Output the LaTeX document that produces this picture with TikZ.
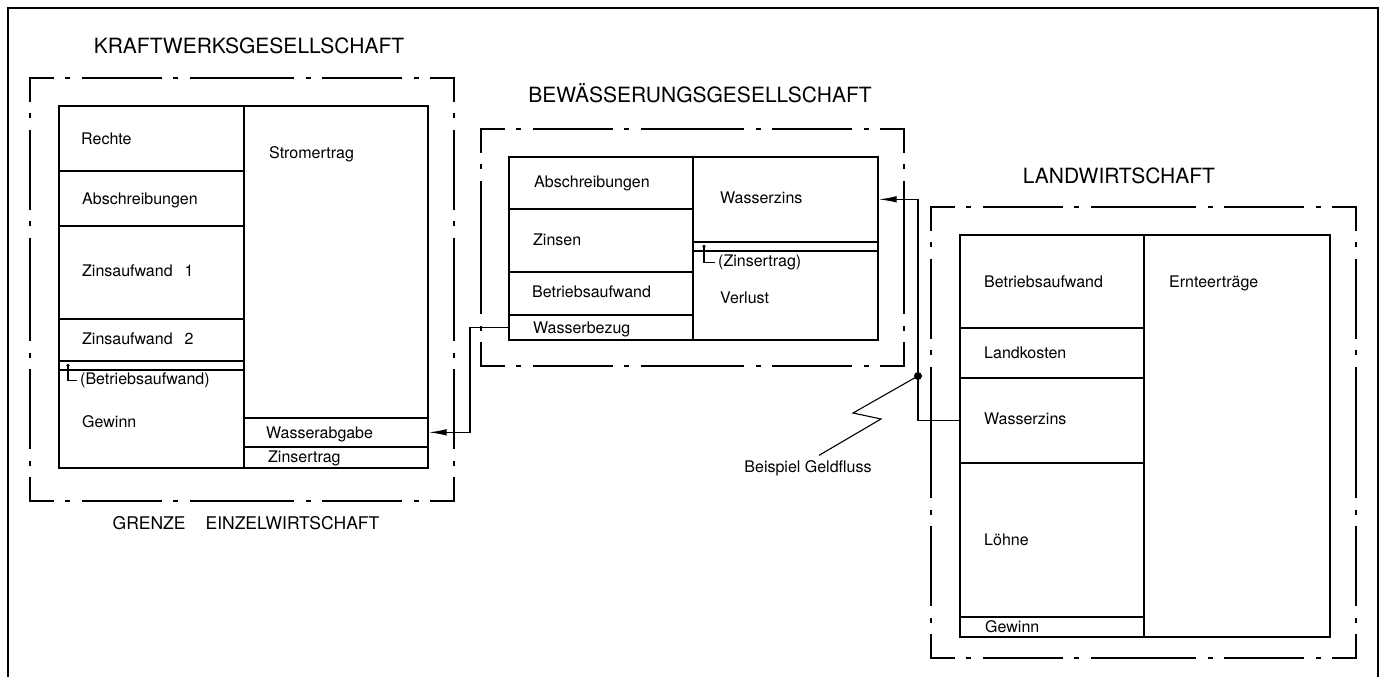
\documentclass[tikz,border=0pt]{standalone}
\usepackage{fontspec}
\setmainfont{TeX Gyre Heros}
\usetikzlibrary{arrows.meta}
\tikzset{
  cell/.style={draw, line width=1.7pt, rectangle, inner sep=0pt, anchor=north west},
  lbl/.style={anchor=base west, inner sep=0pt, font=\fontsize{16}{18}\selectfont},
  ttl/.style={anchor=base, inner sep=0pt, font=\fontsize{21}{24}\selectfont},
  ddash/.style={line width=1.8pt, line cap=rect, dash pattern=on 78pt off 13pt on 3pt off 14pt, dash phase=55pt},
  flow/.style={line width=1.2pt, -{Latex[length=18pt,width=6.5pt]}},
  thinline/.style={line width=1.1pt},
  bigdot/.style={circle, fill, inner sep=0pt, minimum size=8pt},
}
\newcommand\Cell[5]{\node[cell, minimum width={#4-#2}, minimum height={#5-#3}] (#1) at (#2,#3) {};}
\newcommand\DDframe[4]{%
  \draw[ddash] (#1,#2) -- ({(#1+#3)/2},#2);
  \draw[ddash] (#3,#2) -- ({(#1+#3)/2},#2);
  \draw[ddash] (#1,#4) -- ({(#1+#3)/2},#4);
  \draw[ddash] (#3,#4) -- ({(#1+#3)/2},#4);
  \draw[ddash] (#1,#2) -- (#1,{(#2+#4)/2});
  \draw[ddash] (#1,#4) -- (#1,{(#2+#4)/2});
  \draw[ddash] (#3,#2) -- (#3,{(#2+#4)/2});
  \draw[ddash] (#3,#4) -- (#3,{(#2+#4)/2});
}
\begin{document}
\begin{tikzpicture}[x=1pt, y=-1pt]
\useasboundingbox (0,0) rectangle (1381,677);
% outer frame
\draw[line width=1.4pt] (8,677) -- (8,8) -- (1378,8) -- (1378,677);

% ---------------- Kraftwerksgesellschaft
\node[ttl] (tK) at (249,53) {KRAFTWERKSGESELLSCHAFT};
\DDframe{30}{78}{454}{501}
\node[ttl, font=\fontsize{17.5}{20}\selectfont] (tG) at (246,529) {GRENZE\hspace{20pt}EINZELWIRTSCHAFT};
\Cell{kRe}{58}{105}{243}{170}
\Cell{kAb}{58}{170}{243}{225}
\Cell{kZa}{58}{225}{243}{318}
\Cell{kZb}{58}{318}{243}{360}
\Cell{kBa}{58}{360}{243}{369}
\Cell{kGe}{58}{369}{243}{467}
\Cell{kSt}{243}{105}{427}{417}
\Cell{kWa}{243}{417}{427}{446}
\Cell{kZe}{243}{446}{427}{467}
\node[lbl] (kReL) at (81,144.5) {Rechte};
\node[lbl] (kAbL) at (82,204.5) {Abschreibungen};
\node[lbl] (kZaL) at (82,276.5) {Zinsaufwand\hspace{12pt}1};
\node[lbl] (kZbL) at (82,344.5) {Zinsaufwand\hspace{12pt}2};
\node[lbl] (kBaL) at (80,384.5) {(Betriebsaufwand)};
\node[lbl] (kGeL) at (82,427.5) {Gewinn};
\node[lbl] (kStL) at (269,158.5) {Stromertrag};
\node[lbl] (kWaL) at (266,438.5) {Wasserabgabe};
\node[lbl] (kZeL) at (268,462.5) {Zinsertrag};
\fill ([xshift=10pt]kBa.west) circle (1.8pt);
\draw[thinline] ([xshift=10pt]kBa.west) |- ([xshift=-3pt]kBaL.west);

% ---------------- Bewaesserungsgesellschaft
\node[ttl] (tB) at (700,102) {BEWÄSSERUNGSGESELLSCHAFT};
\DDframe{481}{129}{904}{366}
\Cell{bAb}{508}{156}{692}{208}
\Cell{bZi}{508}{208}{692}{271}
\Cell{bBa}{508}{271}{692}{314}
\Cell{bWb}{508}{314}{692}{339}
\Cell{bWz}{692}{156}{877}{241}
\Cell{bZe}{692}{241}{877}{250}
\Cell{bVe}{692}{250}{877}{339}
\node[lbl] (bAbL) at (534,187.5) {Abschreibungen};
\node[lbl] (bZiL) at (533,245.5) {Zinsen};
\node[lbl] (bBaL) at (532,297.5) {Betriebsaufwand};
\node[lbl] (bWbL) at (533,333.5) {Wasserbezug};
\node[lbl] (bWzL) at (720,203.5) {Wasserzins};
\node[lbl] (bZeL) at (718,266.5) {(Zinsertrag)};
\node[lbl] (bVeL) at (720,303.5) {Verlust};
\fill ([xshift=12pt]bZe.west) circle (1.8pt);
\draw[thinline] ([xshift=12pt]bZe.west) |- ([xshift=-3pt]bZeL.west);

% ---------------- Landwirtschaft
\node[ttl] (tL) at (1119,183) {LANDWIRTSCHAFT};
\DDframe{931}{207}{1356}{658}
\Cell{lBa}{959}{234}{1143}{327}
\Cell{lLk}{959}{327}{1143}{377}
\Cell{lWz}{959}{377}{1143}{462}
\Cell{lLo}{959}{462}{1143}{616}
\Cell{lGe}{959}{616}{1143}{636}
\Cell{lEr}{1143}{234}{1329}{636}
\node[lbl] (lBaL) at (984,287.5) {Betriebsaufwand};
\node[lbl] (lErL) at (1169,287.5) {Ernteerträge};
\node[lbl] (lLkL) at (984,358.5) {Landkosten};
\node[lbl] (lWzL) at (984,424.5) {Wasserzins};
\node[lbl] (lLoL) at (984,545.5) {Löhne};
\node[lbl] (lGeL) at (985,632.5) {Gewinn};

% ---------------- money flows
\coordinate (jk) at (470,0);
\draw[flow] (bWb.west) -| (jk |- kWa.east) -- (kWa.east);
\node[bigdot] (gd) at (918,376) {};
\draw[flow] (lWz.west) -| (gd.center) -- (gd.center |- bWz.east) -- (bWz.east);
\node[lbl, anchor=base] (gt) at (808,472.5) {Beispiel Geldfluss};
\draw[thinline] (gd.center) -- (853,413) -- (881,419) -- ([xshift=11pt,yshift=5pt]gt.north);
\end{tikzpicture}
\end{document}
